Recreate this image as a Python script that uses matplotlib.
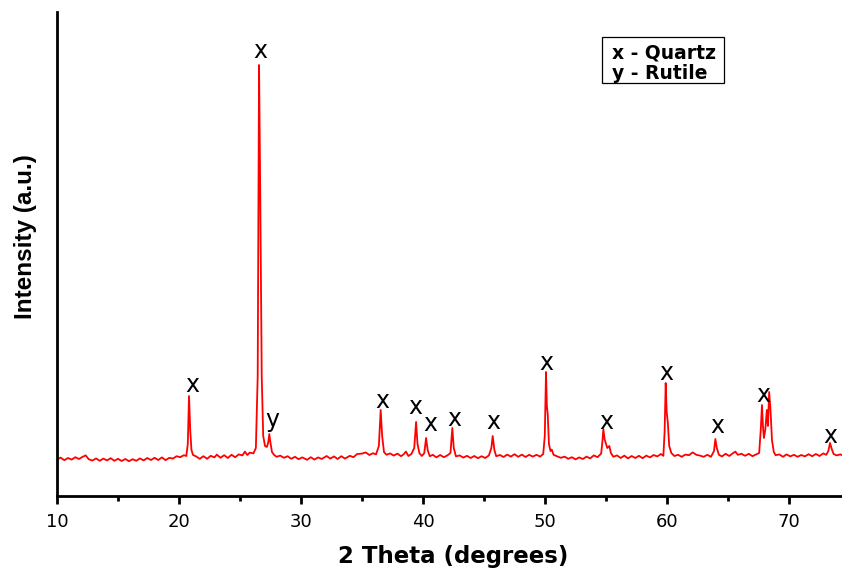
import numpy as np
import matplotlib
matplotlib.use("Agg")
import matplotlib.pyplot as plt
from matplotlib.patches import Rectangle
from matplotlib.ticker import MultipleLocator

# XRD trace (2 theta, counts in arbitrary units)
two_theta = [
    10.0, 10.3, 10.6, 10.9, 11.2, 11.5, 11.8, 12.1, 12.35, 12.6, 12.9, 13.2, 13.5, 13.8,
    14.1, 14.4, 14.7, 15.0, 15.3, 15.6, 15.9, 16.2, 16.5, 16.8, 17.1, 17.4, 17.7, 18.0,
    18.3, 18.6, 18.9, 19.2, 19.5, 19.8, 20.1, 20.4, 20.6, 20.72, 20.82, 20.92, 21.02, 21.15,
    21.4, 21.7, 22.0, 22.3, 22.6, 22.9, 23.1, 23.4, 23.7, 24.0, 24.3, 24.6, 24.9, 25.2,
    25.4, 25.6, 25.8, 26.1, 26.3, 26.45, 26.56, 26.66, 26.78, 26.9, 27.05, 27.2, 27.32, 27.4,
    27.5, 27.62, 27.8, 28.0, 28.3, 28.6, 28.9, 29.2, 29.5, 29.8, 30.1, 30.5, 30.8, 31.1,
    31.4, 31.7, 32.1, 32.4, 32.7, 33.0, 33.3, 33.6, 34.0, 34.3, 34.6, 35.0, 35.3, 35.6,
    35.9, 36.15, 36.38, 36.53, 36.65, 36.8, 37.0, 37.3, 37.6, 37.9, 38.2, 38.4, 38.6, 38.8,
    39.05, 39.28, 39.43, 39.55, 39.7, 39.9, 40.1, 40.25, 40.38, 40.55, 40.8, 41.1, 41.4, 41.7,
    42.0, 42.25, 42.4, 42.52, 42.7, 43.0, 43.3, 43.6, 43.9, 44.2, 44.5, 44.8, 45.1, 45.4,
    45.6, 45.71, 45.85, 46.0, 46.3, 46.6, 46.9, 47.2, 47.5, 47.8, 48.1, 48.4, 48.7, 49.0,
    49.3, 49.6, 49.85, 49.98, 50.08, 50.15, 50.22, 50.32, 50.45, 50.55, 50.7, 51.0, 51.3, 51.6,
    51.9, 52.2, 52.5, 52.8, 53.1, 53.4, 53.7, 54.0, 54.3, 54.6, 54.7, 54.78, 54.88, 54.95,
    55.1, 55.27, 55.4, 55.6, 55.9, 56.2, 56.5, 56.8, 57.1, 57.4, 57.7, 58.0, 58.3, 58.6,
    58.9, 59.2, 59.5, 59.7, 59.8, 59.89, 59.97, 60.06, 60.18, 60.35, 60.6, 60.9, 61.2, 61.5,
    61.8, 62.1, 62.4, 62.7, 63.0, 63.3, 63.6, 63.85, 63.96, 64.08, 64.25, 64.5, 64.8, 65.1,
    65.4, 65.6, 65.8, 66.1, 66.4, 66.7, 67.0, 67.3, 67.55, 67.68, 67.78, 67.86, 67.94, 68.05,
    68.18, 68.27, 68.37, 68.48, 68.6, 68.75, 68.9, 69.2, 69.5, 69.8, 70.1, 70.4, 70.7, 71.0,
    71.3, 71.6, 71.9, 72.2, 72.5, 72.8, 73.05, 73.22, 73.36, 73.5, 73.65, 73.9, 74.2, 74.5,
]
intensity = [
    183, 192, 179, 190, 182, 194, 185, 196, 203, 184, 177, 188, 176, 187,
    178, 189, 176, 186, 175, 185, 174, 184, 176, 188, 178, 190, 180, 191,
    180, 193, 179, 191, 187, 199, 194, 204, 200, 260, 500, 330, 230, 205,
    198, 186, 199, 186, 201, 193, 207, 191, 204, 190, 206, 194, 208, 203,
    222, 205, 217, 213, 240, 600, 2155, 1500, 600, 300, 250, 245, 270, 310,
    265, 220, 205, 196, 202, 191, 199, 186, 196, 184, 193, 181, 194, 182,
    193, 185, 200, 187, 198, 185, 199, 187, 201, 194, 210, 212, 218, 205,
    214, 208, 250, 430, 300, 220, 206, 213, 202, 212, 199, 208, 222, 200,
    210, 240, 370, 260, 215, 200, 214, 290, 230, 199, 206, 193, 205, 194,
    203, 215, 340, 240, 198, 203, 192, 201, 190, 200, 189, 199, 190, 203,
    240, 300, 230, 199, 205, 195, 207, 197, 209, 196, 207, 195, 206, 197,
    206, 197, 210, 300, 620, 450, 410, 260, 225, 232, 206, 198, 191, 197,
    186, 194, 183, 193, 185, 197, 188, 203, 194, 212, 270, 335, 285, 270,
    240, 250, 215, 196, 203, 190, 202, 188, 200, 190, 201, 189, 202, 193,
    205, 198, 210, 201, 320, 565, 420, 370, 250, 215, 200, 206, 196, 207,
    204, 218, 206, 202, 196, 206, 196, 225, 285, 240, 206, 198, 211, 200,
    214, 222, 206, 211, 201, 211, 199, 208, 215, 330, 455, 350, 290, 330,
    430, 350, 520, 430, 280, 220, 204, 208, 196, 208, 198, 206, 196, 205,
    198, 209, 199, 210, 200, 213, 206, 225, 265, 235, 210, 203, 208, 201,
]

# phase markers above the peaks
mark_x = [26.66, 21.07, 27.68, 36.64, 39.34, 40.61, 42.54, 45.80, 50.08, 55.0, 59.92, 64.14, 67.87, 73.36]
mark_y = [2188, 520, 345, 440, 410, 326, 351, 335, 630, 335, 580, 313, 470, 263]
mark_txt = ["x", "x", "y", "x", "x", "x", "x", "x", "x", "x", "x", "x", "x", "x"]

legend_lines = ["x - Quartz", "y - Rutile"]
xticks = [10, 20, 30, 40, 50, 60, 70]

W, H = 842, 568
fig = plt.figure(figsize=(W / 100, H / 100), dpi=100)
ax = fig.add_axes([57 / W, (H - 496) / H, 785 / W, 484 / H])

ax.plot(two_theta, intensity, color="#ff0000", lw=1.3)

for xm, ym, t in zip(mark_x, mark_y, mark_txt):
    ax.text(xm, ym, t, ha="center", va="baseline", fontsize=17, family="DejaVu Sans")

# legend box with the phase key
ax.add_patch(Rectangle((0.6939, 0.8527), 0.1558, 0.0963, transform=ax.transAxes,
                       fill=False, lw=0.9, ec="black"))
ax.text(0.7067, 0.9043, legend_lines[0], transform=ax.transAxes, va="baseline",
        fontsize=13.5, fontweight="bold", family="DejaVu Sans")
ax.text(0.7067, 0.861, legend_lines[1], transform=ax.transAxes, va="baseline",
        fontsize=13.5, fontweight="bold", family="DejaVu Sans")

ax.set_xlim(10, 74.34)
ax.set_ylim(0, 2420)
ax.set_xticks(xticks)
ax.xaxis.set_minor_locator(MultipleLocator(5))
ax.set_yticks([])

for s in ["top", "right"]:
    ax.spines[s].set_visible(False)
for s in ["left", "bottom"]:
    ax.spines[s].set_linewidth(2.0)

ax.tick_params(axis="x", which="major", direction="out", length=6, width=2,
               labelsize=13, pad=6)
ax.tick_params(axis="x", which="minor", direction="out", length=3.5, width=2)
for lab in ax.get_xticklabels():
    lab.set_family("DejaVu Sans")

ax.set_xlabel("2 Theta (degrees)", fontsize=16.5, fontweight="bold", family="DejaVu Sans",
              va="baseline")
ax.xaxis.set_label_coords(0.505, -0.138)
ax.set_ylabel("Intensity (a.u.)", fontsize=17.5, fontweight="bold",
              family="Liberation Sans", va="center")
ax.yaxis.set_label_coords(-0.0395, 0.535)

fig.savefig("out.png", dpi=100)
